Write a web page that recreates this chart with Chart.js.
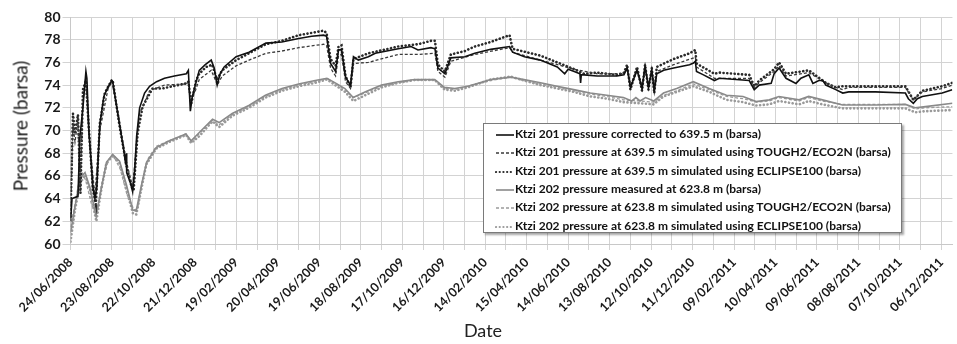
<!DOCTYPE html>
<html>
<head>
<meta charset="utf-8">
<script src="https://cdn.jsdelivr.net/npm/chart.js@4.4.1/dist/chart.umd.min.js"></script>
<style>
  html, body { margin: 0; padding: 0; background: #fff; }
  #wrap { position: relative; width: 957px; height: 344px; overflow: hidden; font-family: Lato, "Open Sans", sans-serif; }
  #c { position: absolute; left: 0; top: 0; }
  #legend { position: absolute; left: 483px; top: 123px; width: 419px; height: 110px; border: 1px solid #7a7a7a; background: #fff;
            box-shadow: 2px 2px 2px rgba(0,0,0,0.35); box-sizing: border-box; font: bold 12px Lato, sans-serif; color: #111; }
  .row { position: absolute; left: 0; height: 18px; line-height: 18px; white-space: nowrap; }
  .row svg { position: absolute; left: 11px; top: 8px; }
  .row span { position: absolute; left: 31px; top: 0; }
  #ytitle { position: absolute; left: 20px; top: 126px; transform: translate(-50%, -50%) rotate(-90deg); font-size: 19px; color: #222; white-space: nowrap; }
  #xtitle { position: absolute; left: 483px; top: 319px; transform: translateX(-50%); font-size: 18px; color: #222; }
</style>
</head>
<body>
<div id="wrap">
  <canvas id="c" width="957" height="344"></canvas>
  <div id="legend"></div>
  <div id="ytitle">Pressure (barsa)</div>
  <div id="xtitle">Date</div>
</div>
<script>
// ---- Data (x = days since 24/06/2008, y = pressure in barsa) ----
const tickLabels = ['24/06/2008','23/08/2008','22/10/2008','21/12/2008','19/02/2009','20/04/2009','19/06/2009',
  '18/08/2009','17/10/2009','16/12/2009','14/02/2010','15/04/2010','14/06/2010','13/08/2010','12/10/2010',
  '11/12/2010','09/02/2011','10/04/2011','09/06/2011','08/08/2011','07/10/2011','06/12/2011'];

const seriesNames = [
  'Ktzi 201 pressure corrected to 639.5 m (barsa)',
  'Ktzi 201 pressure at 639.5 m simulated using TOUGH2/ECO2N (barsa)',
  'Ktzi 201 pressure at 639.5 m simulated using ECLIPSE100 (barsa)',
  'Ktzi 202 pressure measured at 623.8 m (barsa)',
  'Ktzi 202 pressure at 623.8 m simulated using TOUGH2/ECO2N (barsa)',
  'Ktzi 202 pressure at 623.8 m simulated using ECLIPSE100 (barsa)'
];

const ktzi201Measured = [[0,62.0],[2.2,64.0],[10.8,64.2],[13.7,69.5],[18,72.0],[22.3,75.2],[23.7,74.6],[26.6,70.0],[32.4,65.0],
  [35.3,64.0],[38.1,65.0],[42.4,70.5],[48.2,73.0],[54,73.8],[59.7,74.4],[61.1,74.3],[68.3,71.5],[77,68.3],[79.9,67.0],[80.6,68.0],
  [81.3,66.3],[87.1,65.3],[89.9,64.6],[92.8,66.5],[95.7,69.5],[100,72.0],[107.2,73.3],[114.4,73.9],[124.5,74.3],[136,74.6],
  [150.3,74.8],[167.6,75.0],[170.5,75.3],[173.4,71.7],[176.3,73.0],[180.6,74.0],[186.3,75.3],[195,75.8],[203.6,76.2],[207.9,75.5],
  [212.2,74.0],[216.5,75.0],[222.3,75.6],[239.6,76.5],[258.3,76.9],[282.7,77.7],[305.7,77.8],[330.2,78.1],[348.9,78.3],[366.2,78.4],
  [370.5,78.3],[376.3,75.9],[383.5,75.2],[387.8,77.1],[392.1,77.1],[397.9,74.7],[405.1,74.0],[409.4,76.5],[416.5,76.2],[430.9,76.5],
  [441,76.8],[474.1,77.2],[492.8,77.4],[502.8,77.1],[521.5,77.3],[527.3,77.2],[531.6,75.5],[541.7,75.0],[550.3,76.4],[570.5,76.5],
  [584.9,76.8],[607.9,77.15],[635.2,77.4],[639.6,76.9],[656.8,76.5],[679.8,76.2],[704.3,75.6],[715,75.0],[720,75.4],[728.8,75.2],
  [737,75.0],[738,74.2],[739,74.9],[743.1,74.9],[761.9,74.8],[790.6,74.8],[800.7,74.9],[805.3,75.5],[810.1,73.8],[819.7,75.3],
  [826.9,73.7],[831.3,75.6],[836.2,73.8],[841,75.3],[844.6,73.5],[848.2,75.0],[858.2,75.3],[872.6,75.5],[895.6,75.8],[901.4,75.95],
  [904,76.1],[905.7,75.2],[915.8,74.9],[931.6,74.4],[938.8,74.6],[982,74.4],[989.2,73.6],[996.4,74.0],[1013.7,74.15],[1018,75.0],
  [1025.2,75.5],[1035.2,74.6],[1049.6,74.15],[1056.8,74.6],[1068.3,74.9],[1074.1,74.15],[1082.7,74.4],[1088.5,74.4],[1092.8,74.0],
  [1107.2,73.6],[1117.3,73.3],[1125.9,73.4],[1164.8,73.4],[1207.9,73.3],[1212.2,72.8],[1219.4,72.4],[1225.2,72.8],[1232.4,73.0],
  [1261.2,73.3],[1275.6,73.6]];

const ktzi201Tough2 = [[0,62.5],[3.6,70.5],[6.5,69.0],[10.8,71.0],[13.7,65.0],[18,72.5],[22.3,74.8],[26.6,69.5],[35.3,64.3],
  [42.4,70.0],[54,73.6],[59.7,74.3],[68.3,71.8],[79.9,67.5],[89.9,65.0],[95.7,69.0],[100,71.5],[114.4,73.5],[136,74.0],[167.6,74.1],
  [170.5,74.3],[173.4,72.5],[180.6,73.5],[186.3,74.5],[203.6,75.3],[210.8,74.3],[212.2,74.0],[219.4,74.8],[239.6,75.7],[258.3,76.2],
  [282.7,76.8],[305.7,77.0],[330.2,77.3],[366.2,77.6],[370.5,77.5],[376.3,75.5],[383.5,74.8],[387.8,76.6],[392.1,76.7],[397.9,74.3],
  [405.1,73.7],[409.4,75.9],[430.9,76.0],[474.1,76.7],[502.8,76.7],[527.3,76.8],[531.6,75.2],[541.7,74.7],[550.3,76.1],[584.9,76.7],
  [635.2,77.3],[639.6,76.9],[679.8,76.2],[728.8,75.4],[761.9,75.0],[800.7,75.0],[805.3,75.6],[810.1,74.0],[819.7,75.4],[826.9,73.9],
  [831.3,75.7],[836.2,74.0],[841,75.4],[844.6,73.7],[848.2,75.2],[872.6,75.8],[901.4,76.4],[904,76.5],[905.7,75.6],[931.6,74.6],
  [982,74.6],[989.2,73.8],[996.4,74.2],[1018,75.2],[1025.2,75.7],[1035.2,74.8],[1068.3,75.1],[1092.8,74.2],[1107.2,73.8],
  [1117.3,73.6],[1125.9,73.8],[1207.9,73.8],[1219.4,72.7],[1232.4,73.4],[1261.2,73.7],[1275.6,74.0]];

const ktzi201Eclipse = [[0,62.4],[3.6,71.5],[6.5,69.7],[10.8,71.4],[14.4,64.5],[18,73.6],[22.3,74.4],[25.5,71.2],[32.4,64.8],
  [36.7,63.5],[42.4,70.6],[49.6,73.3],[59.7,74.45],[61.1,74.4],[71.2,70.3],[81.3,66.8],[88.5,65.0],[91.4,64.75],[97.1,69.75],
  [104.3,72.1],[118.7,73.7],[133.1,73.7],[147.5,73.9],[167.6,74.15],[170.5,74.3],[174.8,72.4],[182,74.45],[186.3,75.0],[196.4,75.6],
  [205,75.8],[210.8,74.7],[212.2,74.5],[219.4,75.3],[239.6,76.2],[258.3,76.8],[282.7,77.6],[305.7,77.9],[330.2,78.4],[348.9,78.6],
  [366.2,78.8],[370.5,78.6],[376.3,76.3],[383.5,75.7],[387.8,77.4],[392.1,77.5],[397.9,74.8],[405.1,73.8],[409.4,76.3],[430.9,76.8],
  [474.1,77.4],[502.8,77.6],[521.5,77.9],[527.3,77.9],[531.6,75.8],[541.7,75.2],[550.3,76.7],[570.5,77.0],[584.9,77.4],[607.9,77.8],
  [635.2,78.4],[639.6,77.2],[679.8,76.6],[704.3,76.0],[728.8,75.4],[743.1,75.0],[761.9,75.1],[790.6,74.9],[800.7,75.1],[805.3,75.8],
  [810.1,73.6],[819.7,75.6],[826.9,73.5],[831.3,75.8],[836.2,73.6],[841,75.5],[844.6,73.3],[848.2,75.6],[872.6,76.3],[895.6,76.8],
  [901.4,77.0],[904,77.1],[905.7,75.9],[931.6,75.0],[938.8,75.1],[982,74.9],[989.2,73.9],[996.4,74.4],[1018,75.4],[1025.2,76.0],
  [1035.2,75.0],[1068.3,75.3],[1092.8,74.2],[1107.2,73.8],[1117.3,73.9],[1125.9,73.9],[1207.9,73.9],[1219.4,72.7],[1232.4,73.5],
  [1261.2,73.9],[1275.6,74.2]];

const ktzi202Measured = [[0,61.0],[6.5,63.3],[14,65.8],[21,66.3],[28,65.0],[37,62.5],[45,65.0],[52,67.2],[61,67.9],[71,67.3],
  [81,65.2],[90,63.0],[95,62.9],[102,65.0],[110,67.2],[124,68.5],[143,69.1],[167,69.7],[174.5,69.1],[186,69.8],[200.7,70.7],
  [205.5,71.0],[215,70.7],[234,71.5],[258,72.2],[282,73.1],[306,73.7],[330,74.1],[354,74.4],[371,74.6],[383,74.2],[397,73.7],
  [409,72.9],[426,73.4],[450,74.0],[474,74.3],[498,74.5],[527,74.5],[541,73.8],[556,73.7],[575,73.9],[608,74.5],[637,74.7],
  [656,74.5],[680,74.2],[704,73.9],[728,73.6],[752,73.3],[776,73.1],[800,72.9],[812,72.6],[818,72.9],[824,72.6],[832,72.9],
  [844,72.6],[858,73.3],[877,73.7],[901,74.3],[924,73.7],[949,73.1],[973,73.0],[992,72.55],[1011,72.7],[1025,73.0],[1054,72.7],
  [1068,73.0],[1088,72.7],[1117,72.25],[1165,72.25],[1208,72.3],[1222,72.0],[1237,72.1],[1276,72.4]];

const ktzi202Tough2 = [[0,61.5],[6.5,63.5],[15,66.5],[22,65.6],[30,63.6],[37.4,62.4],[45,65.3],[55,67.4],[62,67.8],[72,66.6],
  [82,64.3],[92,63.0],[97,63.1],[104,65.5],[112,67.5],[124,68.6],[143,69.1],[167,69.7],[174.5,69.0],[186,69.7],[200.7,70.6],
  [205.5,70.9],[215,70.5],[234,71.4],[258,72.1],[282,73.0],[306,73.6],[330,74.0],[354,74.3],[371,74.6],[383,74.15],[397,73.6],
  [409,72.9],[426,73.3],[450,73.9],[474,74.2],[498,74.45],[527,74.45],[541,73.7],[556,73.6],[575,73.9],[608,74.4],[637,74.7],
  [656,74.4],[680,74.1],[704,73.8],[728,73.5],[752,73.2],[776,73.0],[800,72.7],[824,72.6],[844,72.5],[858,73.1],[877,73.5],
  [901,74.1],[924,73.6],[949,73.0],[973,72.8],[992,72.5],[1011,72.6],[1025,72.9],[1054,72.6],[1068,72.9],[1088,72.6],[1117,72.3],
  [1165,72.3],[1208,72.3],[1222,71.9],[1237,72.0],[1276,72.1]];

const ktzi202Eclipse = [[0,60.2],[6.5,63.0],[13.7,65.3],[21,66.1],[28,64.8],[37.4,62.0],[44.6,64.8],[51.8,67.1],[61.3,67.8],
  [71.2,67.1],[80.9,64.8],[90.4,62.7],[95.2,62.6],[102.4,64.8],[109.6,67.0],[124,68.4],[143.2,69.0],[167.3,69.6],[174.5,68.9],
  [186.3,69.5],[200.7,70.5],[205.5,70.8],[215.1,70.3],[234.2,71.3],[258.3,72.0],[282.3,72.9],[306.2,73.5],[330.2,73.9],[354.2,74.2],
  [370.9,74.5],[383,74.0],[397.4,73.4],[409.4,72.6],[426.2,73.1],[450.1,73.8],[474.1,74.2],[498.1,74.45],[526.9,74.45],[541.3,73.6],
  [555.7,73.5],[574.8,73.8],[608.3,74.5],[637.1,74.75],[656.4,74.4],[680.3,74.0],[704.3,73.7],[728.3,73.4],[752.2,73.0],[776.3,72.8],
  [800.3,72.5],[824.2,72.4],[843.5,72.3],[857.9,73.0],[877,73.4],[901,73.9],[924.4,73.4],[948.9,72.7],[973,72.5],[992.1,72.2],
  [1010.8,72.3],[1025.2,72.6],[1053.9,72.3],[1068.3,72.6],[1088,72.3],[1117,71.95],[1164.8,71.95],[1207.9,71.95],[1222.3,71.6],
  [1236.7,71.7],[1275,71.8]];

// ---- Styles ----
const seriesData = [ktzi201Measured, ktzi201Tough2, ktzi201Eclipse, ktzi202Measured, ktzi202Tough2, ktzi202Eclipse];
const seriesStyles = [
  { color: '#111111', width: 1.6, dash: [] , cap: 'butt' },
  { color: '#3a3a3a', width: 1.3, dash: [3, 2], cap: 'butt' },
  { color: '#2a2a2a', width: 2.6, dash: [0.1, 3.6], cap: 'round' },
  { color: '#8a8a8a', width: 1.6, dash: [], cap: 'butt' },
  { color: '#9a9a9a', width: 1.3, dash: [3, 2], cap: 'butt' },
  { color: '#9a9a9a', width: 2.6, dash: [0.1, 3.6], cap: 'round' }
];

// ---- Legend (HTML) ----
const legendEl = document.getElementById('legend');
seriesNames.forEach((name, i) => {
  const s = seriesStyles[i];
  const row = document.createElement('div');
  row.className = 'row';
  row.style.top = (1 + i * 18.3) + 'px';
  const dash = s.dash.length ? s.dash.join(' ') : 'none';
  row.innerHTML = '<svg width="20" height="4"><line x1="1" y1="2" x2="19" y2="2" stroke="' + s.color +
    '" stroke-width="' + Math.min(s.width, 2.2) + '" stroke-dasharray="' + dash + '" stroke-linecap="' + s.cap + '"/></svg>' +
    '<span>' + name + '</span>';
  legendEl.appendChild(row);
});

// ---- Chart ----
const datasets = seriesData.map((arr, i) => ({
  label: seriesNames[i],
  data: arr.map(p => ({ x: p[0], y: p[1] })),
  borderColor: seriesStyles[i].color,
  borderWidth: seriesStyles[i].width,
  borderDash: seriesStyles[i].dash,
  borderCapStyle: seriesStyles[i].cap,
  pointRadius: 0,
  tension: 0,
  fill: false
}));

new Chart(document.getElementById('c'), {
  type: 'line',
  data: { datasets },
  options: {
    responsive: false,
    animation: false,
    devicePixelRatio: 1,
    layout: { padding: { top: 17, right: 0, left: 0, bottom: 0 } },
    plugins: { legend: { display: false }, tooltip: { enabled: false } },
    scales: {
      x: {
        type: 'linear', min: 0, max: 1276,
        afterFit: s => { s.height = 100; },
        grid: { color: '#d3d3d3', lineWidth: 1, tickLength: 6 },
        border: { color: '#c8c8c8' },
        ticks: {
          stepSize: 30, autoSkip: false, includeBounds: false,
          minRotation: 45, maxRotation: 45, padding: 5,
          color: '#1a1a1a', font: { family: 'Lato', weight: 'bold', size: 12.5 },
          callback: v => (v % 60 === 0 && tickLabels[v / 60] !== undefined) ? tickLabels[v / 60] : ''
        }
      },
      y: {
        min: 60, max: 80,
        afterFit: s => { s.width = 70.5; },
        grid: { color: '#d3d3d3', lineWidth: 1, tickLength: 8 },
        border: { color: '#c8c8c8' },
        ticks: { stepSize: 2, padding: 2, color: '#1a1a1a', font: { family: 'Lato', weight: 'bold', size: 14 } }
      }
    }
  }
});
</script>
</body>
</html>
